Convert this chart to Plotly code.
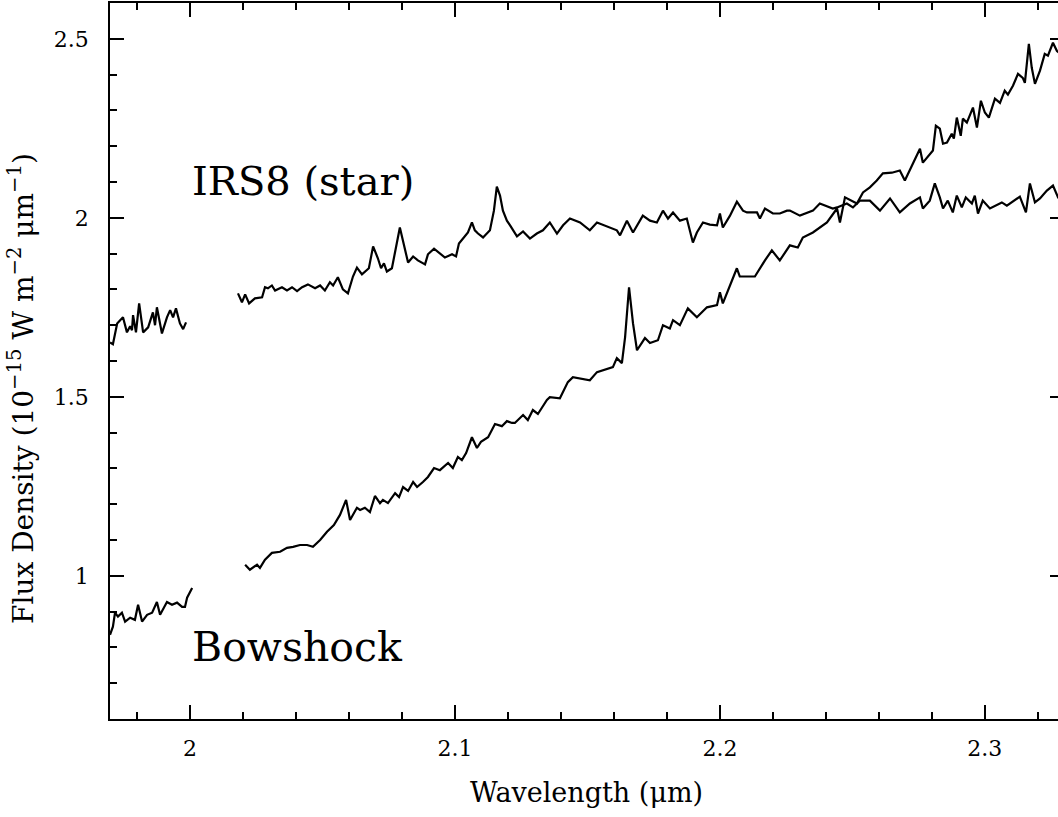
import plotly.graph_objects as go

# ---- data (wavelength in micron, flux density in 1e-15 W m^-2 um^-1) ----
star1_wl = [1.9698, 1.9709, 1.9725, 1.9736, 1.9747, 1.9762, 1.9774, 1.9781, 1.9785, 1.9796,
            1.9808, 1.9823, 1.9842, 1.9860, 1.9868, 1.9875, 1.9894, 1.9913, 1.9925, 1.9936,
            1.9947, 1.9962, 1.9974, 1.9985]
star1_fx = [1.652, 1.647, 1.705, 1.714, 1.722, 1.680, 1.697, 1.686, 1.728, 1.680,
            1.761, 1.680, 1.694, 1.736, 1.700, 1.750, 1.677, 1.722, 1.742, 1.722,
            1.747, 1.705, 1.689, 1.708]

star2_wl = [2.0181, 2.0196, 2.0208, 2.0223, 2.0245, 2.0272, 2.0283, 2.0294, 2.0309, 2.0321,
            2.0347, 2.0366, 2.0385, 2.0404, 2.0423, 2.0445, 2.0472, 2.0491, 2.0509, 2.0528,
            2.0540, 2.0558, 2.0577, 2.0596, 2.0615, 2.0630, 2.0649, 2.0660, 2.0675, 2.0691,
            2.0709, 2.0721, 2.0732, 2.0743, 2.0762, 2.0792, 2.0811, 2.0823, 2.0842, 2.0860,
            2.0887, 2.0898, 2.0921, 2.0943, 2.0962, 2.0989, 2.1004, 2.1015, 2.1038, 2.1049,
            2.1064, 2.1075, 2.1087, 2.1106, 2.1132, 2.1147, 2.1158, 2.1170, 2.1181, 2.1196,
            2.1208, 2.1234, 2.1257, 2.1283, 2.1309, 2.1332, 2.1358, 2.1385, 2.1408, 2.1434,
            2.1472, 2.1509, 2.1536, 2.1566, 2.1611, 2.1623, 2.1649, 2.1672, 2.1709, 2.1736,
            2.1762, 2.1785, 2.1804, 2.1823, 2.1849, 2.1875, 2.1898, 2.1913, 2.1936, 2.1962,
            2.1989, 2.2000, 2.2011, 2.2038, 2.2064, 2.2087, 2.2102, 2.2140, 2.2151, 2.2170,
            2.2200, 2.2226, 2.2253, 2.2264, 2.2302, 2.2351, 2.2377, 2.2426, 2.2442, 2.2479,
            2.2502, 2.2528, 2.2566, 2.2604, 2.2642, 2.2679, 2.2717, 2.2755, 2.2766, 2.2792,
            2.2811, 2.2830, 2.2842, 2.2860, 2.2879, 2.2894, 2.2913, 2.2928, 2.2951, 2.2962,
            2.2974, 2.2992, 2.3019, 2.3064, 2.3083, 2.3132, 2.3155, 2.3170, 2.3189, 2.3208,
            2.3234, 2.3257, 2.3276, 2.3300]
star2_fx = [1.789, 1.764, 1.786, 1.761, 1.775, 1.778, 1.806, 1.803, 1.811, 1.797,
            1.806, 1.797, 1.806, 1.795, 1.806, 1.814, 1.803, 1.811, 1.797, 1.820,
            1.811, 1.834, 1.800, 1.789, 1.836, 1.861, 1.842, 1.850, 1.859, 1.920,
            1.887, 1.859, 1.873, 1.850, 1.859, 1.973, 1.914, 1.875, 1.892, 1.881,
            1.870, 1.898, 1.914, 1.900, 1.889, 1.898, 1.892, 1.928, 1.951, 1.959,
            1.987, 1.965, 1.956, 1.945, 1.965, 2.020, 2.087, 2.062, 2.020, 1.992,
            1.979, 1.948, 1.962, 1.942, 1.956, 1.965, 1.987, 1.956, 1.979, 1.998,
            1.987, 1.965, 1.987, 1.979, 1.965, 1.951, 1.992, 1.959, 2.006, 1.992,
            1.987, 2.020, 1.998, 2.015, 1.992, 1.998, 1.931, 1.959, 1.987, 1.981,
            1.979, 2.012, 1.973, 2.006, 2.045, 2.020, 2.015, 2.015, 1.998, 2.026,
            2.012, 2.012, 2.020, 2.020, 2.006, 2.020, 2.040, 2.026, 2.029, 2.040,
            2.029, 2.048, 2.048, 2.020, 2.054, 2.015, 2.040, 2.057, 2.026, 2.048,
            2.096, 2.057, 2.026, 2.048, 2.015, 2.062, 2.029, 2.057, 2.040, 2.062,
            2.012, 2.048, 2.026, 2.043, 2.034, 2.059, 2.015, 2.096, 2.043, 2.054,
            2.076, 2.090, 2.057, 2.065]

bow1_wl = [1.9698, 1.9709, 1.9717, 1.9728, 1.9743, 1.9755, 1.9774, 1.9792, 1.9804, 1.9819,
           1.9838, 1.9857, 1.9875, 1.9887, 1.9913, 1.9932, 1.9951, 1.9970, 1.9981, 1.9989,
           2.0008]
bow1_fx = [0.835, 0.858, 0.897, 0.886, 0.897, 0.872, 0.883, 0.877, 0.919, 0.872,
           0.891, 0.897, 0.927, 0.891, 0.927, 0.919, 0.925, 0.913, 0.913, 0.939,
           0.966]

bow2_wl = [2.0208, 2.0226, 2.0253, 2.0264, 2.0283, 2.0309, 2.0340, 2.0366, 2.0389, 2.0415,
           2.0442, 2.0464, 2.0491, 2.0517, 2.0543, 2.0566, 2.0589, 2.0604, 2.0630, 2.0642,
           2.0660, 2.0679, 2.0698, 2.0717, 2.0728, 2.0747, 2.0774, 2.0789, 2.0804, 2.0823,
           2.0842, 2.0857, 2.0879, 2.0898, 2.0921, 2.0943, 2.0974, 2.0992, 2.1011, 2.1026,
           2.1042, 2.1064, 2.1083, 2.1098, 2.1125, 2.1151, 2.1177, 2.1196, 2.1215, 2.1226,
           2.1257, 2.1275, 2.1294, 2.1313, 2.1347, 2.1358, 2.1396, 2.1426, 2.1445, 2.1509,
           2.1536, 2.1596, 2.1611, 2.1630, 2.1642, 2.1657, 2.1672, 2.1687, 2.1717, 2.1736,
           2.1766, 2.1785, 2.1811, 2.1823, 2.1849, 2.1879, 2.1913, 2.1951, 2.1989, 2.2000,
           2.2011, 2.2064, 2.2075, 2.2132, 2.2170, 2.2196, 2.2226, 2.2264, 2.2294, 2.2313,
           2.2351, 2.2404, 2.2442, 2.2453, 2.2472, 2.2517, 2.2540, 2.2566, 2.2592, 2.2615,
           2.2649, 2.2679, 2.2698, 2.2728, 2.2755, 2.2766, 2.2804, 2.2815, 2.2830, 2.2842,
           2.2857, 2.2875, 2.2883, 2.2894, 2.2909, 2.2917, 2.2932, 2.2955, 2.2970, 2.2985,
           2.3000, 2.3015, 2.3038, 2.3057, 2.3075, 2.3087, 2.3106, 2.3125, 2.3143, 2.3151,
           2.3166, 2.3177, 2.3189, 2.3208, 2.3226, 2.3238, 2.3257, 2.3272, 2.3300]
bow2_fx = [1.031, 1.017, 1.031, 1.022, 1.045, 1.064, 1.067, 1.078, 1.081, 1.086,
           1.086, 1.081, 1.100, 1.123, 1.142, 1.170, 1.212, 1.156, 1.190, 1.184,
           1.190, 1.178, 1.223, 1.203, 1.212, 1.203, 1.231, 1.220, 1.248, 1.237,
           1.262, 1.248, 1.262, 1.276, 1.301, 1.295, 1.315, 1.301, 1.332, 1.323,
           1.343, 1.387, 1.357, 1.374, 1.387, 1.424, 1.418, 1.432, 1.427, 1.427,
           1.449, 1.435, 1.463, 1.452, 1.491, 1.499, 1.496, 1.541, 1.555, 1.546,
           1.569, 1.583, 1.608, 1.594, 1.666, 1.806, 1.705, 1.630, 1.664, 1.650,
           1.658, 1.700, 1.691, 1.714, 1.700, 1.747, 1.722, 1.750, 1.756, 1.792,
           1.761, 1.859, 1.836, 1.836, 1.881, 1.909, 1.881, 1.923, 1.917, 1.945,
           1.959, 1.987, 2.026, 1.987, 2.057, 2.040, 2.071, 2.085, 2.104, 2.124,
           2.126, 2.132, 2.104, 2.151, 2.193, 2.154, 2.188, 2.257, 2.249, 2.207,
           2.210, 2.235, 2.221, 2.280, 2.229, 2.277, 2.266, 2.308, 2.252, 2.327,
           2.294, 2.280, 2.333, 2.321, 2.355, 2.344, 2.369, 2.402, 2.391, 2.377,
           2.486, 2.419, 2.374, 2.411, 2.458, 2.453, 2.489, 2.466, 2.450]

x_ticks = [2.0, 2.1, 2.2, 2.3]
x_ticktext = ["2", "2.1", "2.2", "2.3"]
y_ticks = [1.0, 1.5, 2.0, 2.5]
y_ticktext = ["1", "1.5", "2", "2.5"]

FONT = "DejaVu Serif"
LINE = dict(color="black", width=2.2)

fig = go.Figure()
for wl, fx in [(star1_wl, star1_fx), (star2_wl, star2_fx), (bow1_wl, bow1_fx), (bow2_wl, bow2_fx)]:
    fig.add_trace(go.Scatter(x=wl, y=fx, mode="lines", line=LINE, showlegend=False, hoverinfo="skip"))
# empty trace to activate the right-hand tick axis
fig.add_trace(go.Scatter(x=[], y=[], yaxis="y2", showlegend=False, hoverinfo="skip"))

fig.update_layout(
    width=1058, height=817,
    margin=dict(l=110, r=0, t=3, b=98),
    paper_bgcolor="white", plot_bgcolor="white",
    font=dict(family=FONT, color="black"),
    xaxis=dict(range=[1.9698, 2.3276], showline=True, linecolor="black", linewidth=1.8,
               mirror="ticks", ticks="inside", ticklen=14, tickwidth=1.5, tickcolor="black",
               tickvals=x_ticks, ticktext=x_ticktext, tickfont=dict(size=22, family=FONT),
               ticklabelstandoff=9,
               minor=dict(ticks="inside", ticklen=7, tickwidth=1.5, tickcolor="black",
                          dtick=0.02, tick0=2.0),
               showgrid=False, zeroline=False),
    yaxis=dict(range=[0.6, 2.6], showline=True, linecolor="black", linewidth=1.8,
               mirror=False, ticks="inside", ticklen=14, tickwidth=1.5, tickcolor="black",
               tickvals=y_ticks, ticktext=y_ticktext, tickfont=dict(size=22, family=FONT),
               ticklabelstandoff=15,
               minor=dict(ticks="inside", ticklen=7, tickwidth=1.5, tickcolor="black",
                          dtick=0.1, tick0=0.0),
               showgrid=False, zeroline=False),
    yaxis2=dict(range=[0.6, 2.6], overlaying="y", side="right", showline=False,
                ticks="inside", ticklen=8, tickwidth=1.5, tickcolor="black",
                tickvals=y_ticks, showticklabels=False, showgrid=False, zeroline=False),
    annotations=[
        dict(text="IRS8 (star)", x=2.0, y=2.104, xref="x", yref="y", xanchor="left",
             yanchor="middle", showarrow=False, font=dict(size=40, family=FONT)),
        dict(text="Bowshock", x=2.0, y=0.80, xref="x", yref="y", xanchor="left",
             yanchor="middle", showarrow=False, font=dict(size=41, family=FONT)),
        dict(text="Wavelength (\u03bcm)", x=0.503, y=-0.102, xref="paper", yref="paper",
             xanchor="center", yanchor="middle", showarrow=False, font=dict(size=27, family=FONT)),
        dict(text="Flux Density (10<sup>\u221215</sup> W m<sup>\u22122</sup> \u03bcm<sup>\u22121</sup>)",
             x=-0.0928, y=0.461, xref="paper", yref="paper", textangle=-90,
             xanchor="center", yanchor="middle", showarrow=False, font=dict(size=28, family=FONT)),
    ],
)

fig.write_html("out.html")
